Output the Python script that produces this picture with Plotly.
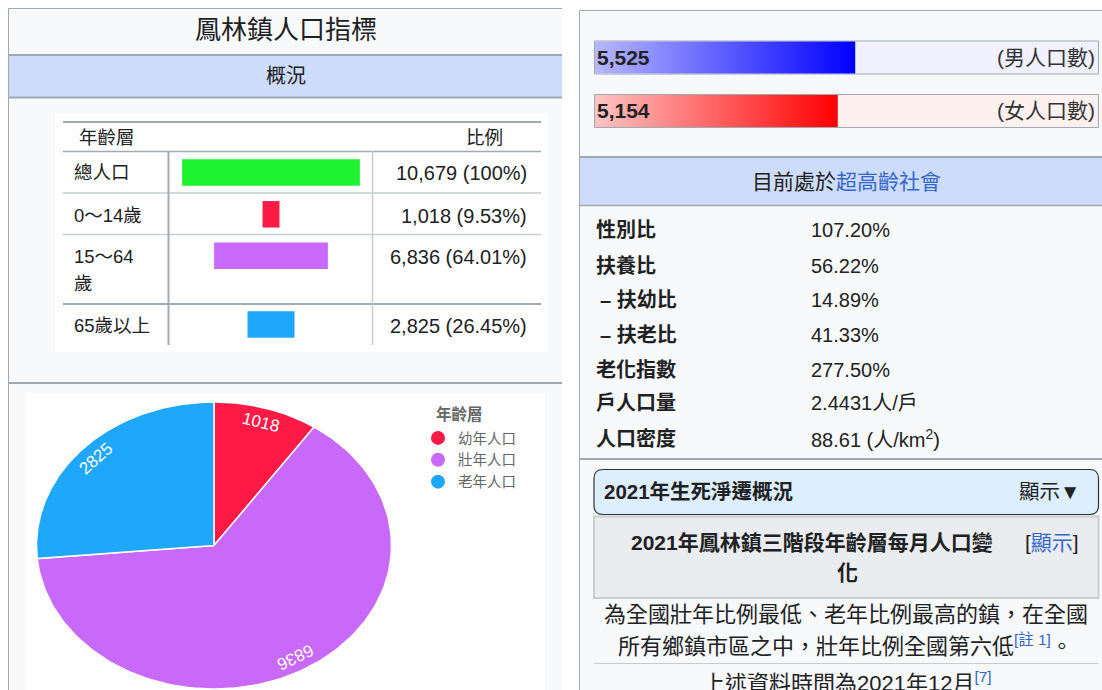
import numpy as np
import plotly.graph_objects as go

W, H = 1102, 690
FONT = "Liberation Sans, Noto Sans CJK TC, sans-serif"
TXT = "#202122"
LINK = "#3366cc"
BORDER = "#a2a9b1"
LIGHT = "#c8ccd1"
BAND = "#cddcfa"

# ---------------- data ----------------
title = "鳳林鎮人口指標"
age_groups = ["總人口", "0～14歲", "15～64<br>歲", "65歲以上"]
age_counts = [10679, 1018, 6836, 2825]
age_colors = ["#1ff22f", "#ff1a46", "#c869f9", "#1ea7fb"]

pie_labels = ["幼年人口", "壯年人口", "老年人口"]
pie_values = [1018, 6836, 2825]
pie_colors = ["#ff1a46", "#c869f9", "#1ea7fb"]

sex_labels = ["(男人口數)", "(女人口數)"]
sex_counts = [5525, 5154]
sex_grad = [["#b8b8ff", "#0000ff"], ["#ffc4c4", "#ff0000"]]
sex_bg = ["#f0f0ff", "#fff0f0"]

stat_labels = ["性別比", "扶養比", "– 扶幼比", "– 扶老比", "老化指數", "戶人口量", "人口密度"]
stat_values = ["107.20%", "56.22%", "14.89%", "41.33%", "277.50%", "2.4431人/戶",
               "88.61 (人/km<sup>2</sup>)"]

# ---------------- layout positions (px) ----------------
ROW_Y = [172.5, 214.3, 255.8, 324.5]      # bar centres in table
ROW_LABEL_Y = [172.5, 215, 256, 325]
BAR_H = 26.5
SEX_Y = [(41.5, 73.5), (95, 127)]
STAT_Y = [230.3, 265.5, 299.8, 334.5, 369.7, 403.4, 438.7]

shapes = []
ann = []


def rect(x0, y0, x1, y1, fill, line=None, lw=0):
    shapes.append(dict(type="rect", xref="x", yref="y", x0=x0, y0=y0, x1=x1, y1=y1,
                       fillcolor=fill, line=dict(color=line or fill, width=lw), layer="below"))


def hline(x0, x1, y, color, w):
    shapes.append(dict(type="line", xref="x", yref="y", x0=x0, x1=x1, y0=y, y1=y,
                       line=dict(color=color, width=w), layer="below"))


def vline(x, y0, y1, color, w):
    shapes.append(dict(type="line", xref="x", yref="y", x0=x, x1=x, y0=y0, y1=y1,
                       line=dict(color=color, width=w), layer="below"))


def txt(x, y, s, size, color=TXT, xanchor="left", bold=False, yanchor="middle",
        xref="x", yref="y", angle=0):
    ann.append(dict(x=x, y=y, xref=xref, yref=yref, text=f"<b>{s}</b>" if bold else s,
                    showarrow=False, xanchor=xanchor, yanchor=yanchor, textangle=angle,
                    font=dict(size=size, color=color, family=FONT)))


fig = go.Figure()

# ================= LEFT PANEL =================
rect(8, 8, 562, 700, "#f8f9fa")
hline(8, 562, 8.5, BORDER, 1)
vline(8.5, 8, 700, BORDER, 1)
txt(286, 30, title, 26, xanchor="center")
hline(8, 562, 55, BORDER, 2)
rect(9, 56, 562, 97, BAND)
hline(8, 562, 97.5, BORDER, 2)
txt(286, 76, "概況", 20, xanchor="center")

# table
rect(55, 113, 548, 352, "#ffffff")
hline(63, 541, 122, BORDER, 2)
hline(63, 541, 151.5, BORDER, 1.5)
hline(63, 541, 193, LIGHT, 1.5)
hline(63, 541, 234.5, LIGHT, 1.5)
hline(63, 541, 304, BORDER, 2)
vline(168.5, 151, 345, BORDER, 2)
vline(372.5, 151, 345, LIGHT, 1.5)
txt(77, 137.5, "年齡層", 18.5)
txt(484, 137.5, "比例", 18.5, xanchor="center")

total = age_counts[0]
for i, (lab, cnt) in enumerate(zip(age_groups, age_counts)):
    for k, part in enumerate(lab.split("<br>")):
        txt(72, ROW_LABEL_Y[i] + 27 * k, part, 18.5)
    pct = "100%" if i == 0 else f"{cnt / total * 100:.2f}%"
    txt(529, ROW_LABEL_Y[i] + 0.5, f"{cnt:,} ({pct})", 20, xanchor="right")

fig.add_trace(go.Bar(
    x=age_counts, base=[-c / 2 for c in age_counts], y=ROW_Y, width=BAR_H,
    orientation="h", marker=dict(color=age_colors, line=dict(width=0)),
    xaxis="x2", yaxis="y", showlegend=False, hoverinfo="skip"))

hline(8, 562, 383, BORDER, 2)
rect(25, 393, 545, 700, "#ffffff")

# pie (elliptical as in reference)
vals = np.array(pie_values, float)
frac = vals / vals.sum()
ends = np.cumsum(frac) * 2 * np.pi
starts = ends - frac * 2 * np.pi
RX, RY = 177.5, 143.5
for lab, v, col, s, e in zip(pie_labels, pie_values, pie_colors, starts, ends):
    t = np.linspace(s, e, 160)
    xs = np.r_[0, np.sin(t), 0]
    ys = np.r_[0, np.cos(t), 0]
    fig.add_trace(go.Scatter(x=xs, y=ys, fill="toself", fillcolor=col, mode="lines",
                             line=dict(color="#ffffff", width=1.5), xaxis="x4", yaxis="y4",
                             showlegend=False, hoverinfo="skip"))
    m = (s + e) / 2
    ang = np.degrees(np.arctan2(RY * np.sin(m), RX * np.cos(m)))
    txt(0.9 * np.sin(m), 0.9 * np.cos(m), str(v), 17, color="#ffffff", xanchor="center",
        xref="x4", yref="y4", angle=float(ang))

for i, (lab, col) in enumerate(zip(pie_labels, pie_colors)):
    fig.add_trace(go.Scatter(x=[None], y=[None], mode="markers", name=lab,
                             marker=dict(color=col, size=14, symbol="circle"),
                             xaxis="x4", yaxis="y4", legendgroup=f"g{i}"))
txt(434, 414, "年齡層", 15.5, color="#666666", bold=True)

# ================= RIGHT PANEL =================
rect(579, 10, 1110, 700, "#f8f9fa")
hline(579, 1102, 10.5, BORDER, 1)
vline(579.5, 10, 700, BORDER, 1)

for i, (lab, cnt) in enumerate(zip(sex_labels, sex_counts)):
    y0, y1 = SEX_Y[i]
    rect(594.5, y0 - 0.5, 1098.5, y1 + 0.5, sex_bg[i], BORDER, 1)
    fig.add_trace(go.Scatter(
        x=[0, cnt, cnt, 0, 0], y=[y0, y0, y1, y1, y0], fill="toself", mode="lines",
        line=dict(width=0), xaxis="x3", yaxis="y", showlegend=False, hoverinfo="skip",
        fillgradient=dict(type="horizontal",
                          colorscale=[[0, sex_grad[i][0]], [1, sex_grad[i][1]]])))
    yc = (y0 + y1) / 2
    txt(595, yc - 0.5, f"{cnt:,}", 21, color="#222222", bold=True)
    txt(1097, yc - 0.5, lab, 21, color="#333333", xanchor="right")

hline(579, 1102, 157, BORDER, 2)
rect(580, 158, 1102, 205, BAND)
hline(579, 1102, 205.5, BORDER, 1.5)
txt(846, 181, f"目前處於<span style='color:{LINK}'>超高齡社會</span>", 21, xanchor="center")

for lab, val, y in zip(stat_labels, stat_values, STAT_Y):
    txt(598 if lab.startswith("–") else 594, y, lab, 20, bold=True)
    txt(809, y, val, 20)

hline(579, 1102, 459, BORDER, 2)

# collapsible box
x0, x1, y0, y1, r = 594, 1098.5, 469.5, 514.5, 9
path = (f"M {x0+r},{y0} L {x1-r},{y0} Q {x1},{y0} {x1},{y0+r} L {x1},{y1-r} "
        f"Q {x1},{y1} {x1-r},{y1} L {x0+r},{y1} Q {x0},{y1} {x0},{y1-r} "
        f"L {x0},{y0+r} Q {x0},{y0} {x0+r},{y0} Z")
shapes.append(dict(type="path", xref="x", yref="y", path=path, fillcolor="#ddeeff",
                   line=dict(color="#333333", width=1.2), layer="below"))
txt(602, 491, "2021年生死淨遷概況", 20.5, bold=True)
txt(1082, 491, "顯示<b>▼</b>", 20.5, xanchor="right")

rect(594, 516.5, 1098.5, 598, "#eaecf0", LIGHT, 2)
txt(812, 542, "2021年鳳林鎮三階段年齡層每月人口變", 21, bold=True, xanchor="center")
txt(847, 572.5, "化", 21, bold=True, xanchor="center")
txt(1081, 542, f"[<span style='color:{LINK}'>顯示</span>]", 21, xanchor="right")

txt(846, 614.5, "為全國壯年比例最低、老年比例最高的鎮，在全國", 22, xanchor="center")
txt(845, 645, f"所有鄉鎮市區之中，壯年比例全國第六低<sup><span style='color:{LINK}'>[註 1]</span></sup>。",
    22, xanchor="center")
hline(594, 1098, 663.5, LIGHT, 1)
txt(847, 682, f"上述資料時間為2021年12月<sup><span style='color:{LINK}'>[7]</span></sup>",
    22, xanchor="center")

# ---------------- axes ----------------
hidden = dict(visible=False, showgrid=False, zeroline=False, fixedrange=True)
half = 6070
fig.update_layout(
    width=W, height=H, margin=dict(l=0, r=0, t=0, b=0),
    paper_bgcolor="#ffffff", plot_bgcolor="rgba(0,0,0,0)",
    xaxis=dict(range=[0, W], domain=[0, 1], **hidden),
    yaxis=dict(range=[H, 0], domain=[0, 1], **hidden),
    xaxis2=dict(range=[-half, half], domain=[170 / W, 372 / W], anchor="y", **hidden),
    xaxis3=dict(range=[0, sum(sex_counts)], domain=[595 / W, 1098 / W], anchor="y", **hidden),
    xaxis4=dict(range=[-1, 1], domain=[36.5 / W, 391.5 / W], anchor="y4", **hidden),
    yaxis4=dict(range=[-1, 1], domain=[1 - 689 / H, 1 - 402 / H], anchor="x4", **hidden),
    shapes=shapes, annotations=ann,
    showlegend=True,
    legend=dict(x=418 / W, y=1 - 422 / H, xanchor="left", yanchor="top",
                font=dict(size=14.5, color="#666666", family=FONT),
                bgcolor="rgba(0,0,0,0)", traceorder="grouped", tracegroupgap=0,
                itemsizing="trace"),
)

fig.write_html("out.html", config={"displayModeBar": False},
               post_script="document.body.style.margin='0';document.body.style.overflow='hidden';")
